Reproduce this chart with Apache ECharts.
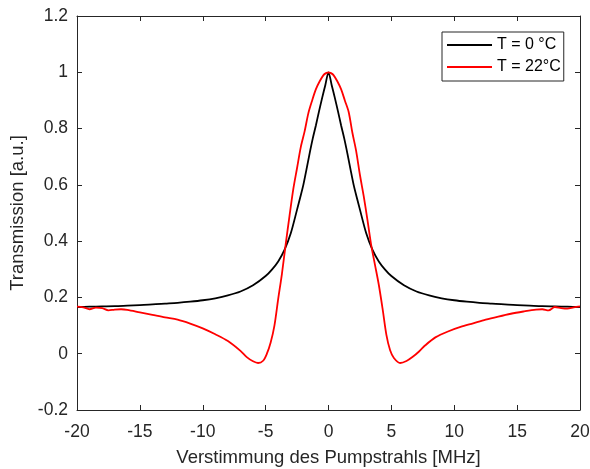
<!DOCTYPE html>
<html>
<head>
<meta charset="utf-8">
<script src="https://cdn.jsdelivr.net/npm/echarts@6/dist/echarts.min.js"></script>
<style>
html,body{margin:0;padding:0;background:#fff;}
#chart{width:590px;height:469px;}
</style>
</head>
<body>
<div id="chart"></div>
<script>
// Detuning [MHz] and transmission values
var xBlack = [-20,-19,-18,-17,-16,-15,-14,-13,-12,-11,-10,-9,-8,-7,-6,-5,-4.5,-4,-3.5,-3,-2.5,-2.25,-2,-1.75,-1.5,-1.25,-1,-0.75,-0.5,-0.25,0,
              0.25,0.5,0.75,1,1.25,1.5,1.75,2,2.25,2.5,3,3.5,4,4.5,5,6,7,8,9,10,11,12,13,14,15,16,17,18,19,20];
var yBlack = [0.166,0.167,0.168,0.169,0.171,0.173,0.175,0.178,0.181,0.185,0.190,0.197,0.207,0.221,0.243,0.276,0.299,0.328,0.369,0.428,0.512,0.555,0.600,0.655,0.712,0.765,0.812,0.862,0.910,0.955,1.0,
              0.955,0.910,0.862,0.812,0.765,0.712,0.655,0.600,0.555,0.512,0.428,0.369,0.328,0.299,0.276,0.243,0.221,0.207,0.197,0.190,0.185,0.181,0.178,0.175,0.173,0.171,0.169,0.168,0.167,0.166];

var xRed = [-20,-19.5,-19,-18.5,-18,-17.5,-17,-16.5,-16,-15,-14,-13,-12,-11,-10,-9,-8,-7,-6.5,-6,-5.6,-5.2,-4.9,-4.6,-4.3,-4,-3.7,-3.4,-3.1,-2.8,-2.5,-2.2,-1.9,-1.6,-1.3,-1,-0.7,-0.4,-0.2,0,
            0.2,0.4,0.7,1,1.3,1.6,1.9,2.2,2.5,2.8,3.1,3.4,3.7,4,4.3,4.6,4.9,5.2,5.7,6.2,6.7,7.2,7.7,8.5,9.5,10.5,11.5,12.5,13.5,14.5,15.5,16.5,17,17.5,18,18.5,19,19.5,20];
var yRed = [0.167,0.165,0.158,0.164,0.162,0.154,0.157,0.158,0.156,0.147,0.138,0.129,0.121,0.107,0.090,0.069,0.045,0.010,-0.012,-0.027,-0.033,-0.025,0.000,0.040,0.100,0.195,0.285,0.390,0.490,0.585,0.660,0.735,0.790,0.855,0.900,0.940,0.968,0.990,0.997,1.0,
            0.997,0.990,0.968,0.940,0.900,0.860,0.785,0.720,0.635,0.560,0.475,0.385,0.315,0.245,0.160,0.068,0.012,-0.015,-0.033,-0.026,-0.011,0.008,0.030,0.058,0.079,0.095,0.108,0.121,0.132,0.142,0.150,0.157,0.158,0.154,0.166,0.162,0.160,0.165,0.168];

var xTicks = [-20,-15,-10,-5,0,5,10,15,20];
var yTicks = [-0.2,0,0.2,0.4,0.6,0.8,1,1.2];
var seriesNames = ['T = 0 °C', 'T = 22°C'];

function pairs(xs, ys){ return xs.map(function(x,i){ return [x, ys[i]]; }); }

var FONT = '"Liberation Sans", Arial, Helvetica, sans-serif';
var AX = '#262626';

var chart = echarts.init(document.getElementById('chart'), null, {renderer:'canvas'});
var yLabelFmt = function(v){ return String(Math.round(v*10)/10); };
var option = {
  animation: false,
  backgroundColor: '#ffffff',
  textStyle: {fontFamily: FONT},
  grid: {left: 77, right: 10, top: 16, bottom: 59, containLabel: false, outerBoundsMode: 'none'},
  legend: {
    orient: 'vertical', left: 442, top: 32,
    backgroundColor: '#fff',
    borderColor: AX, borderWidth: 1,
    padding: [4, 3, 5, 5],
    itemGap: 4, itemWidth: 45, itemHeight: 2,
    icon: 'rect',
    textStyle: {fontFamily: FONT, fontSize: 16, lineHeight: 18, color: '#000'},
    data: seriesNames
  },
  xAxis: [{
    type: 'value', min: xTicks[0], max: xTicks[xTicks.length-1], interval: 5,
    name: 'Verstimmung des Pumpstrahls [MHz]', nameLocation: 'middle', nameGap: 38,
    nameTextStyle: {fontFamily: FONT, fontSize: 18.5, color: AX},
    axisLine: {show: true, onZero: false, lineStyle: {color: AX, width: 1}},
    axisTick: {show: true, inside: true, length: 5, lineStyle: {color: AX}},
    axisLabel: {fontFamily: FONT, fontSize: 17.5, color: AX, margin: 13},
    splitLine: {show: false}
  }, {
    type: 'value', position: 'top', min: xTicks[0], max: xTicks[xTicks.length-1], interval: 5,
    axisLine: {show: true, onZero: false, lineStyle: {color: AX, width: 1}},
    axisTick: {show: true, inside: true, length: 5, lineStyle: {color: AX}},
    axisLabel: {show: false}, splitLine: {show: false}
  }],
  yAxis: [{
    type: 'value', min: yTicks[0], max: yTicks[yTicks.length-1], interval: 0.2,
    name: 'Transmission [a.u.]', nameLocation: 'middle', nameGap: 43,
    nameTextStyle: {fontFamily: FONT, fontSize: 18.5, color: AX},
    axisLine: {show: true, onZero: false, lineStyle: {color: AX, width: 1}},
    axisTick: {show: true, inside: true, length: 5, lineStyle: {color: AX}},
    axisLabel: {fontFamily: FONT, fontSize: 17.5, color: AX, margin: 9, formatter: yLabelFmt},
    splitLine: {show: false}
  }, {
    type: 'value', position: 'right', min: yTicks[0], max: yTicks[yTicks.length-1], interval: 0.2,
    axisLine: {show: true, onZero: false, lineStyle: {color: AX, width: 1}},
    axisTick: {show: true, inside: true, length: 5, lineStyle: {color: AX}},
    axisLabel: {show: false}, splitLine: {show: false}
  }],
  series: [{
    name: seriesNames[0], type: 'line', xAxisIndex: 0, yAxisIndex: 0,
    data: pairs(xBlack, yBlack), showSymbol: false, smooth: 0.3,
    itemStyle: {color: '#000000'},
    lineStyle: {color: '#000000', width: 1.8}
  }, {
    name: seriesNames[1], type: 'line', xAxisIndex: 0, yAxisIndex: 0,
    data: pairs(xRed, yRed), showSymbol: false, smooth: 0.3,
    itemStyle: {color: '#ff0000'},
    lineStyle: {color: '#ff0000', width: 1.8}
  }]
};
chart.setOption(option);
</script>
</body>
</html>
